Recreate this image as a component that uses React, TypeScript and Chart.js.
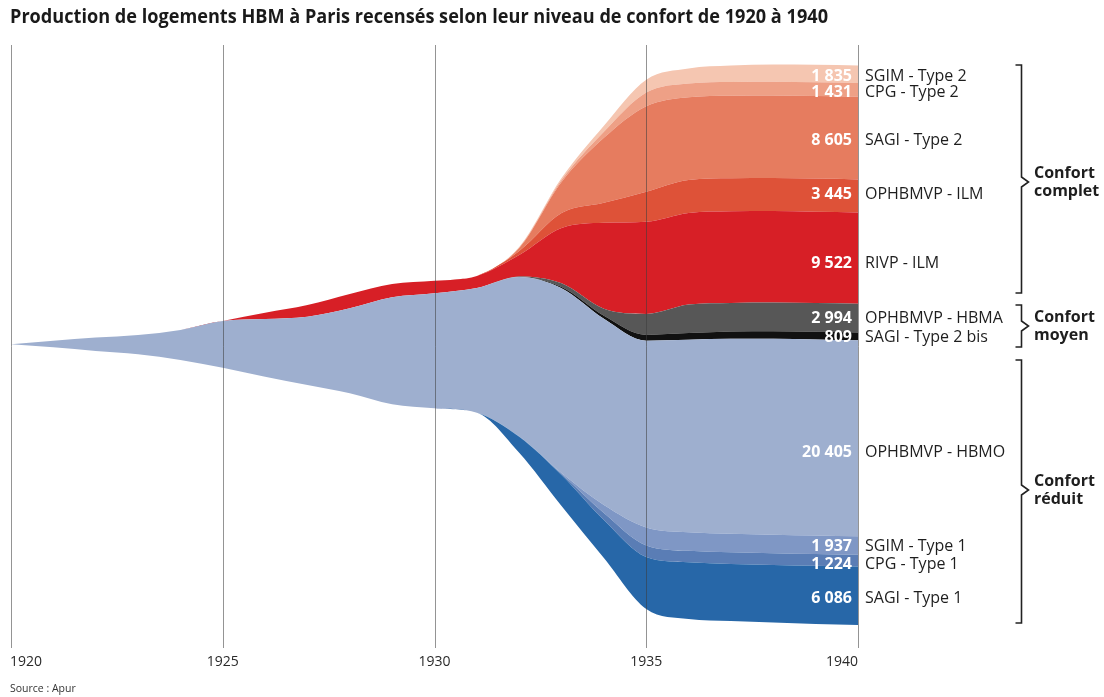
import React, { useEffect, useRef } from "react";
import { Chart, registerables } from "chart.js";

Chart.register(...registerables);

// ---------- DATA ----------
const years = [1920, 1921, 1922, 1923, 1924, 1925, 1926, 1927, 1928, 1929, 1930, 1931, 1932, 1933, 1934, 1935, 1936, 1937, 1938, 1939, 1940];
const tickYears = [1920, 1925, 1930, 1935, 1940];

// invisible offset that centres the stream
const baseline = [31320, 31010, 30630, 30280, 29690, 28890, 27950, 27080, 26220, 25070, 24660, 24200, 20030, 14480, 9060, 3750, 2710, 2500, 2340, 2190, 2080];

const sagiType1 = [0, 0, 0, 0, 0, 0, 0, 0, 0, 0, 0, 0, 1670, 3230, 3960, 5420, 5900, 5950, 6000, 6060, 6086];
const cpgType1 = [0, 0, 0, 0, 0, 0, 0, 0, 0, 0, 0, 0, 20, 100, 730, 1200, 1200, 1210, 1215, 1220, 1224];
const sgimType1 = [0, 0, 0, 0, 0, 0, 0, 0, 0, 0, 0, 0, 20, 100, 830, 1880, 1930, 1930, 1935, 1937, 1937];
const ophbmvpHbmo = [0, 690, 1390, 2010, 3130, 4870, 6010, 7120, 8850, 11150, 11980, 12990, 16590, 19240, 19400, 19450, 20050, 20300, 20400, 20405, 20405];
const sagiType2bis = [0, 0, 0, 0, 0, 0, 0, 0, 0, 0, 0, 0, 0, 130, 310, 600, 700, 760, 790, 809, 809];
const ophbmvpHbma = [0, 0, 0, 0, 0, 0, 0, 0, 0, 0, 0, 0, 50, 390, 730, 2190, 2970, 2980, 2990, 2994, 2994];
const rivpIlm = [0, 0, 0, 0, 0, 0, 660, 1220, 1500, 1380, 1300, 1260, 2240, 5760, 8960, 9600, 9550, 9540, 9530, 9522, 9522];
const ophbmvpIlm = [0, 0, 0, 0, 0, 0, 0, 0, 0, 0, 0, 0, 420, 1560, 2080, 3130, 3440, 3445, 3445, 3445, 3445];
const sagiType2 = [0, 0, 0, 0, 0, 0, 0, 0, 0, 0, 0, 0, 310, 3230, 6770, 8900, 8620, 8605, 8605, 8605, 8605];
const cpgType2 = [0, 0, 0, 0, 0, 0, 0, 0, 0, 0, 0, 0, 50, 210, 630, 1420, 1431, 1431, 1431, 1431, 1431];
const sgimType2 = [0, 0, 0, 0, 0, 0, 0, 0, 0, 0, 0, 0, 50, 210, 630, 1350, 1560, 1720, 1800, 1830, 1835];

const seriesNames = [
  "SAGI - Type 1",
  "CPG - Type 1",
  "SGIM - Type 1",
  "OPHBMVP - HBMO",
  "SAGI - Type 2 bis",
  "OPHBMVP - HBMA",
  "RIVP - ILM",
  "OPHBMVP - ILM",
  "SAGI - Type 2",
  "CPG - Type 2",
  "SGIM - Type 2",
];
const seriesValues = [sagiType1, cpgType1, sgimType1, ophbmvpHbmo, sagiType2bis, ophbmvpHbma, rivpIlm, ophbmvpIlm, sagiType2, cpgType2, sgimType2];

const titleText = "Production de logements HBM à Paris recensés selon leur niveau de confort de 1920 à 1940";
const sourceText = "Source : Apur";
const groupLabels = [["Confort", "complet"], ["Confort", "moyen"], ["Confort", "réduit"]];

// ---------- STYLE ----------
const seriesColors = ["#2767a8", "#5a7db5", "#7f97c5", "#9eafcf", "#111111", "#575757", "#d71f26", "#de5238", "#e67c5f", "#eea086", "#f5c6b1"];
const labelOffsets = [2.5, 4, 1, 14, 0.5, 0, 5, -1, 2, 3, 2];
const bracketBoxes = [
  { top: 65, bottom: 293, mid: 182 },
  { top: 305, bottom: 347, mid: 326 },
  { top: 360, bottom: 623, mid: 490 },
];
const FONT = "'Open Sans', 'Noto Sans', sans-serif";

const fmt = (n: number) => String(n).replace(/\B(?=(\d{3})+(?!\d))/g, " ");

const overlayPlugin = {
  id: "overlay",
  afterDatasetsDraw(chart: any) {
    const ctx = chart.ctx as CanvasRenderingContext2D;
    const xs = chart.scales.x;
    const { top, bottom } = chart.chartArea;
    ctx.save();
    ctx.strokeStyle = "rgba(60,60,60,0.55)";
    ctx.lineWidth = 1;
    tickYears.forEach((yr) => {
      const px = Math.round(xs.getPixelForValue(yr)) + 0.5;
      ctx.beginPath();
      ctx.moveTo(px, top);
      ctx.lineTo(px, bottom + 3);
      ctx.stroke();
    });
    ctx.restore();
  },
  afterDraw(chart: any) {
    const ctx = chart.ctx as CanvasRenderingContext2D;
    const xs = chart.scales.x;
    const ys = chart.scales.y;
    const { bottom } = chart.chartArea;
    ctx.save();

    // title (condensed to fit)
    ctx.fillStyle = "#1a1a1a";
    ctx.font = `bold 19px ${FONT}`;
    ctx.textBaseline = "alphabetic";
    ctx.textAlign = "left";
    const tw = ctx.measureText(titleText).width;
    ctx.save();
    ctx.translate(10, 23);
    ctx.scale(818 / tw, 1);
    ctx.fillText(titleText, 0, 0);
    ctx.restore();

    // x labels
    ctx.font = `14px ${FONT}`;
    ctx.fillStyle = "#2a2a2a";
    tickYears.forEach((yr, i) => {
      const px = xs.getPixelForValue(yr);
      if (i === 0) { ctx.textAlign = "left"; ctx.fillText(String(yr), px - 1, bottom + 21); }
      else if (i === tickYears.length - 1) { ctx.textAlign = "right"; ctx.fillText(String(yr), px, bottom + 21); }
      else { ctx.textAlign = "center"; ctx.fillText(String(yr), px, bottom + 21); }
    });

    // source
    ctx.font = `10.5px ${FONT}`;
    ctx.fillStyle = "#333";
    ctx.textAlign = "left";
    ctx.fillText(sourceText, 10, 692);

    // end labels
    const last = years.length - 1;
    const xEnd = xs.getPixelForValue(years[last]);
    let cum = baseline[last];
    ctx.textBaseline = "middle";
    seriesValues.forEach((vals, i) => {
      const lo = cum;
      const hi = cum + vals[last];
      cum = hi;
      const cy = (ys.getPixelForValue(lo) + ys.getPixelForValue(hi)) / 2 + labelOffsets[i];
      ctx.font = `bold 16px ${FONT}`;
      ctx.fillStyle = "#ffffff";
      ctx.textAlign = "right";
      ctx.fillText(fmt(vals[last]), xEnd - 6, cy);
      ctx.font = `16px ${FONT}`;
      ctx.fillStyle = "#1e1e1e";
      ctx.textAlign = "left";
      ctx.fillText(seriesNames[i], xEnd + 7, cy);
    });

    // brackets + group labels
    ctx.strokeStyle = "#222";
    ctx.lineWidth = 1.6;
    ctx.lineJoin = "miter";
    bracketBoxes.forEach((b, i) => {
      const bx = 1021.5;
      ctx.beginPath();
      ctx.moveTo(bx - 6, b.top);
      ctx.lineTo(bx, b.top);
      ctx.lineTo(bx, b.mid - 5);
      ctx.lineTo(bx + 7, b.mid);
      ctx.lineTo(bx, b.mid + 5);
      ctx.lineTo(bx, b.bottom);
      ctx.lineTo(bx - 6, b.bottom);
      ctx.stroke();
      ctx.font = `bold 16px ${FONT}`;
      ctx.fillStyle = "#1e1e1e";
      ctx.textAlign = "left";
      ctx.fillText(groupLabels[i][0], 1034, b.mid - 9);
      ctx.fillText(groupLabels[i][1], 1034, b.mid + 9.5);
    });

    ctx.restore();
  },
};

export default function App() {
  const canvasRef = useRef<HTMLCanvasElement | null>(null);

  useEffect(() => {
    if (!canvasRef.current) return;
    const toPts = (arr: number[]) => arr.map((v, i) => ({ x: years[i], y: v }));
    const noLine = "rgba(0,0,0,0)";
    const datasets: any[] = [
      {
        label: "base",
        data: toPts(baseline),
        fill: false,
        borderWidth: 0,
        borderColor: noLine,
        backgroundColor: noLine,
        pointRadius: 0,
        cubicInterpolationMode: "monotone",
      },
      ...seriesValues.map((vals, i) => ({
        label: seriesNames[i],
        data: toPts(vals),
        fill: "-1",
        backgroundColor: seriesColors[i],
        borderColor: noLine,
        borderWidth: 0,
        pointRadius: 0,
        cubicInterpolationMode: "monotone",
      })),
    ];
    const chart = new Chart(canvasRef.current, {
      type: "line",
      data: { datasets },
      options: {
        animation: false,
        responsive: false,
        devicePixelRatio: 1,
        layout: { padding: { left: 11, right: 246, top: 45, bottom: 52 } },
        scales: {
          x: { type: "linear", min: 1920, max: 1940, display: false },
          y: { stacked: true, min: 0, max: 62500, display: false },
        },
        plugins: { legend: { display: false }, tooltip: { enabled: false }, title: { display: false } },
        elements: { line: { tension: 0.4 } },
      },
      plugins: [overlayPlugin],
    } as any);
    return () => chart.destroy();
  }, []);

  return (
    <div style={{ position: "absolute", left: 0, top: 0, width: 1104, height: 697, background: "#fff" }}>
      <canvas ref={canvasRef} width={1104} height={697} style={{ display: "block" }} />
    </div>
  );
}
